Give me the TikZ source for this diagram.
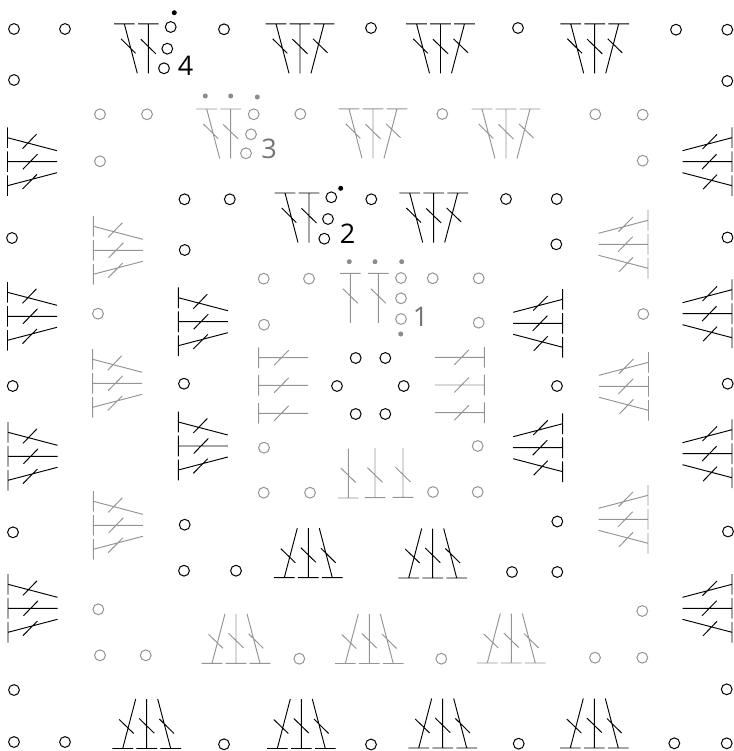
\documentclass[tikz,border=0pt]{standalone}
\usepackage{fontspec}
\setmainfont{Open Sans}
\definecolor{ltgray}{gray}{0.58}
\definecolor{numgray}{gray}{0.45}
\tikzset{
  st/.style={line width=0.95pt},
  blk/.style={st,draw=black},
  gry/.style={st,draw=ltgray},
  ringb/.style={line width=1pt,draw=black},
  ringg/.style={line width=1pt,draw=ltgray},
  cup/.style={x={(1pt,0pt)},y={(0pt,1pt)}},
  cdown/.style={x={(-1pt,0pt)},y={(0pt,-1pt)}},
  cleft/.style={x={(0pt,-1pt)},y={(1pt,0pt)}},
  cright/.style={x={(0pt,1pt)},y={(-1pt,0pt)}},
  numlabel/.style={font=\fontsize{27}{27}\selectfont,inner sep=0pt,anchor=center},
}
% #1 colour style, #2 x, #3 y, #4 orientation
\newcommand\stmid[1]{\draw[#1] (-10.3,0)--(10.3,0) (0,0)--(0,49.5) (-7.5,30)--(7.5,15.4);}
\newcommand\stside[1]{\draw[#1] (13.7,0)--(34.3,0) (24,0)--(11,49.5) (12.7,29.5)--(27.3,15);}
\newcommand\stother[1]{\draw[#1] (-34.3,0)--(-13.7,0) (-24,0)--(-11,49.5) (-27.5,29)--(-13,15);}
\newcommand\splay[4]{\begin{scope}[shift={(#2pt,-#3pt)},#4]\stmid{#1}\stside{#1}\stother{#1}\end{scope}}
\newcommand\splaytwo[4]{\begin{scope}[shift={(#2pt,-#3pt)},#4]\stmid{#1}\stside{#1}\end{scope}}
\newcommand\single[4]{\begin{scope}[shift={(#2pt,-#3pt)},#4]\stmid{#1}\end{scope}}
\begin{document}
\begin{tikzpicture}
\useasboundingbox (0pt,0pt) rectangle (733pt,-751pt);
% outer ring
\splaytwo{blk}{148.3}{23.8}{cdown}
\splay{blk}{300}{23.8}{cdown}
\splay{blk}{440.5}{23.8}{cdown}
\splay{blk}{594.7}{23.8}{cdown}
\splay{blk}{146.7}{748.5}{cup}
\splay{blk}{301.3}{748.5}{cup}
\splay{blk}{442.7}{748}{cup}
\splay{blk}{594.3}{748}{cup}
\splay{blk}{7.5}{161.7}{cleft}
\splay{blk}{7.5}{316.3}{cleft}
\splay{blk}{8}{456.3}{cleft}
\splay{blk}{8}{608.3}{cleft}
\splay{blk}{732}{161.7}{cright}
\splay{blk}{732}{313.7}{cright}
\splay{blk}{732}{453.7}{cright}
\splay{blk}{732}{608.3}{cright}
% third ring
\splaytwo{gry}{230.7}{109}{cdown}
\splay{gry}{373}{108.8}{cdown}
\splay{gry}{506}{109}{cdown}
\splay{gry}{236}{663.3}{cup}
\splay{gry}{369.3}{663.5}{cup}
\splay{gry}{511.3}{663}{cup}
\splay{gry}{93.3}{250.3}{cleft}
\splay{gry}{92.7}{383.3}{cleft}
\splay{gry}{93.3}{525.3}{cleft}
\splay{gry}{648}{244.3}{cright}
\splay{gry}{648.5}{386.3}{cright}
\splay{gry}{648}{519.3}{cright}
% second ring
\splaytwo{blk}{309}{193}{cdown}
\splay{blk}{433.7}{193}{cdown}
\splay{blk}{308.3}{577.7}{cup}
\splay{blk}{432.7}{578}{cup}
\splay{blk}{178.3}{321.7}{cleft}
\splay{blk}{178.3}{446}{cleft}
\splay{blk}{562.7}{323.3}{cright}
\splay{blk}{562.7}{447.7}{cright}
% inner ring
\single{gry}{350.3}{273.3}{cdown}
\single{gry}{378.3}{273.3}{cdown}
\single{gry}{348.3}{498}{cup}
\single{gry}{375}{497.7}{cup}
\single{gry}{403}{497.3}{cup}
\single{gry}{258.7}{357.7}{cleft}
\single{gry}{258.7}{385.3}{cleft}
\single{gry}{258.7}{413.3}{cleft}
\single{gry}{484.3}{357.3}{cright}
\single{gry}{484.3}{385}{cright}
\single{gry}{484.3}{412.7}{cright}
% black chain rings
\foreach \x/\y in {14/29,65/29,14/80,224/29.3,371/28,518/28,676/29.7,727.3/29.7,727.3/81,
  727.5/237.5,727.7/383.7,728/531.5,726.7/689.3,726.7/743.3,674.3/743.3,518.7/743.7,371/744.5,224/744.3,
  65/742,14/742,14/690,12/238,12.7/386,13/532.3,
  170.7/27,167.3/48.7,164/68.3,
  184.5/199.3,229.8/199.3,184.7/250,331.3/197.3,328/219,324.3/238.7,371.3/199.3,506/199,556.7/199,556.3/244.3,
  557/386,557.3/521.5,557.3/572,512/572,236/570.7,184/570.7,184.7/524.7,184/383.7,
  355.7/358,385.3/358,337/386,403.7/386,355.7/414,385.3/414}
  {\draw[ringb] (\x pt,-\y pt) circle (5.4pt);}
% grey chain rings
\foreach \x/\y in {100/114.3,147/114.3,100/161.3,253.7/114.3,251/134.3,246/153.3,300.3/114,442.3/114,595.3/114.3,642.7/114.7,642.7/160.7,
  643.3/314,642.3/611,642.3/657.7,595/657.7,441.3/658.7,299.3/658.7,145.7/655.3,100/655.3,98.3/609.3,98/313.7,
  263.7/278.7,309/278.7,401/278,432.7/278.3,478.7/278.3,401/298.3,401/319,264/324.7,478.7/322.7,
  264/447.7,477.7/446,263.7/492.7,310/492.7,433/492,477.7/492}
  {\draw[ringg] (\x pt,-\y pt) circle (5.4pt);}
% pull-through dots
\fill[black] (174.3pt,-12.7pt) circle (2.5pt);
\fill[black] (340.7pt,-188.3pt) circle (2.5pt);
\foreach \x/\y in {205.3/96,230.7/96,257.3/97,349.3/261.7,375/261.7,401.7/261.7,400.7/334}
  {\fill[gray!90] (\x pt,-\y pt) circle (2.5pt);}
% labels
\node[numlabel,text=black] (n4) at (185.5pt,-65.5pt) {4};
\node[numlabel,text=numgray] (n3) at (269pt,-148.5pt) {3};
\node[numlabel,text=black] (n2) at (347.5pt,-233.5pt) {2};
\node[numlabel,text=numgray] (n1) at (420.5pt,-316.5pt) {1};
\end{tikzpicture}
\end{document}
